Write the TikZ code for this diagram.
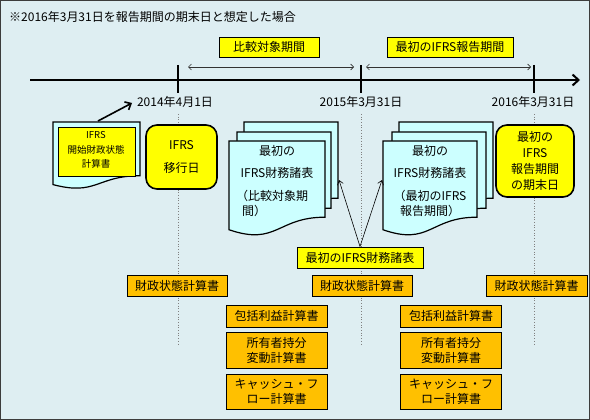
\documentclass[tikz,border=0pt]{standalone}
\usepackage{fontspec}
\setmainfont{Noto Sans CJK JP}
\usetikzlibrary{arrows.meta}
\definecolor{bg}{RGB}{222,238,242}
\definecolor{docfill}{RGB}{204,255,255}
\definecolor{ylw}{RGB}{255,255,0}
\definecolor{org}{RGB}{255,192,0}
\definecolor{frame}{RGB}{60,60,60}
\newcommand{\mydoc}[5]{\draw[docline,fill=#5] (#1,#2) -- ({#1+#3},#2) -- ({#1+#3},{#2+0.802*#4}) .. controls ({#1+0.5*#3},{#2+0.802*#4}) and ({#1+0.5*#3},{#2+1.107*#4}) .. (#1,{#2+0.934*#4}) -- cycle;}
\begin{document}
\begin{tikzpicture}[x=1pt,y=-1pt,
  docline/.style={draw=black,line width=1.2pt},
  txt/.style={inner sep=0pt,font=\fontsize{12}{14}\selectfont},
  smalltxt/.style={inner sep=0pt,font=\fontsize{9.5}{11}\selectfont},
  ylwbox/.style={draw=black,line width=0.9pt,fill=ylw,inner sep=0pt,font=\fontsize{12}{14}\selectfont},
  orgbox/.style={draw=black,line width=0.9pt,fill=org,inner sep=0pt,align=center,font=\fontsize{12}{15}\selectfont},
  rbox/.style={draw=black,line width=1.6pt,fill=ylw,rounded corners=11pt,inner sep=0pt,align=center,font=\fontsize{12}{16}\selectfont},
  timeline/.style={line width=2pt,-{Straight Barb[length=6pt,width=11pt,line width=2pt]}},
  tick/.style={line width=2pt},
  span/.style={draw={rgb,255:red,50;green,50;blue,50},line width=0.6pt,{Straight Barb[length=3pt,width=6pt]}-{Straight Barb[length=3pt,width=6pt]}},
  guide/.style={draw=gray,line width=0.7pt,dotted},
  pointer/.style={line width=0.6pt,-{Straight Barb[length=4pt,width=6pt]}},
  bigpointer/.style={line width=1.6pt,-{Straight Barb[length=5pt,width=9pt,line width=1.6pt]}}
]
\useasboundingbox (0,0) rectangle (590,420);
\fill[bg] (0,0) rectangle (590,420);
\draw[frame,line width=1pt] (0.5,0.5) rectangle (589.5,419.5);

% title
\node[txt,anchor=west] (title) at (9,17) {※2016年3月31日を報告期間の期末日と想定した場合};

% period labels
\node[ylwbox,minimum width=100pt,minimum height=20pt] (hikaku) at (269,47) {比較対象期間};
\node[ylwbox,minimum width=126pt,minimum height=20pt] (saisho) at (450,47) {最初のIFRS報告期間};

% span arrows
\coordinate (s1a) at (188,67); \coordinate (s1b) at (354,67);
\coordinate (s2a) at (366,67); \coordinate (s2b) at (531,67);
\draw[span] (s1a) -- (s1b);
\draw[span] (s2a) -- (s2b);

% timeline
\coordinate (tl0) at (30,80); \coordinate (tl1) at (580,80);
\draw[timeline] (tl0) -- (tl1);
\coordinate (k1a) at (178,65); \coordinate (k1b) at (178,93);
\coordinate (k2a) at (361,65); \coordinate (k2b) at (361,93);
\coordinate (k3a) at (534,65); \coordinate (k3b) at (534,93);
\draw[tick] (k1a) -- (k1b);
\draw[tick] (k2a) -- (k2b);
\draw[tick] (k3a) -- (k3b);

% dates
\node[txt] (d1) at (175,102) {2014年4月1日};
\node[txt] (d2) at (361,102) {2015年3月31日};
\node[txt] (d3) at (533,102) {2016年3月31日};

% dotted guides
\coordinate (g1a) at (178,114); \coordinate (g1b) at (178,346);
\coordinate (g2a) at (361,114); \coordinate (g2b) at (361,346);
\coordinate (g3a) at (534,114); \coordinate (g3b) at (534,346);
\draw[guide] (g1a) -- (g1b);
\draw[guide] (g2a) -- (g2b);
\draw[guide] (g3a) -- (g3b);

% opening balance sheet document
\mydoc{53}{122}{87}{67}{docfill}
\draw[black,line width=0.8pt,fill=ylw] (58,127) rectangle (135,176);
\node[smalltxt] (o1) at (96,135) {IFRS};
\node[smalltxt] (o2) at (96,150) {開始財政状態};
\node[smalltxt] (o3) at (96,164) {計算書};
\coordinate (opTop) at (98,121);
\coordinate (opTip) at (132,103);
\draw[bigpointer] (opTop) -- (opTip);

% transition date
\node[rbox,minimum width=71pt,minimum height=64pt] (ikou) at (181.5,157) {IFRS\\[7pt]移行日};

% left document stack
\mydoc{244}{122}{94}{95}{docfill}
\mydoc{237}{132}{94}{95}{docfill}
\mydoc{229}{141}{96}{95}{docfill}
\node[txt] (l1) at (277,151) {最初の};
\node[txt] (l2) at (277,173) {IFRS財務諸表};
\node[txt,anchor=west] (l3) at (236,196) {（比較対象期};
\node[txt,anchor=west] (l4) at (242,211) {間）};

% right document stack
\mydoc{399}{122}{94}{95}{docfill}
\mydoc{392}{132}{94}{95}{docfill}
\mydoc{383}{141}{94}{95}{docfill}
\node[txt] (r1) at (430,151) {最初の};
\node[txt] (r2) at (430,173) {IFRS財務諸表};
\node[txt] (r3) at (430,196) {（最初のIFRS};
\node[txt] (r4) at (430,211) {報告期間）};

% period-end date
\node[rbox,minimum width=78pt,minimum height=72pt] (kimatsu) at (535,161) {最初の\\IFRS\\報告期間\\の期末日};

% first IFRS FS label
\node[ylwbox,minimum width=126pt,minimum height=21pt] (fs) at (360,257.5) {最初のIFRS財務諸表};
\coordinate (ldoc) at (339,180);
\coordinate (rdoc) at (382,180);
\draw[pointer] (fs.north) -- (ldoc);
\draw[pointer] (fs.north) -- (rdoc);

% statements
\node[orgbox,minimum width=100pt,minimum height=21pt] (zL) at (177,285.5) {財政状態計算書};
\node[orgbox,minimum width=100pt,minimum height=21pt] (zM) at (362,285.5) {財政状態計算書};
\node[orgbox,minimum width=101pt,minimum height=21pt] (zR) at (536.5,285.5) {財政状態計算書};
\node[orgbox,minimum width=101pt,minimum height=22pt] (hL) at (276.5,316) {包括利益計算書};
\node[orgbox,minimum width=101pt,minimum height=22pt] (hR) at (451,316) {包括利益計算書};
\node[orgbox,minimum width=101pt,minimum height=36pt] (sL) at (276.5,350) {所有者持分\\変動計算書};
\node[orgbox,minimum width=101pt,minimum height=36pt] (sR) at (451,350) {所有者持分\\変動計算書};
\node[orgbox,minimum width=101pt,minimum height=35pt] (cL) at (276.5,391.5) {キャッシュ・フ\\ロー計算書};
\node[orgbox,minimum width=101pt,minimum height=35pt] (cR) at (451,391.5) {キャッシュ・フ\\ロー計算書};
\end{tikzpicture}
\end{document}
